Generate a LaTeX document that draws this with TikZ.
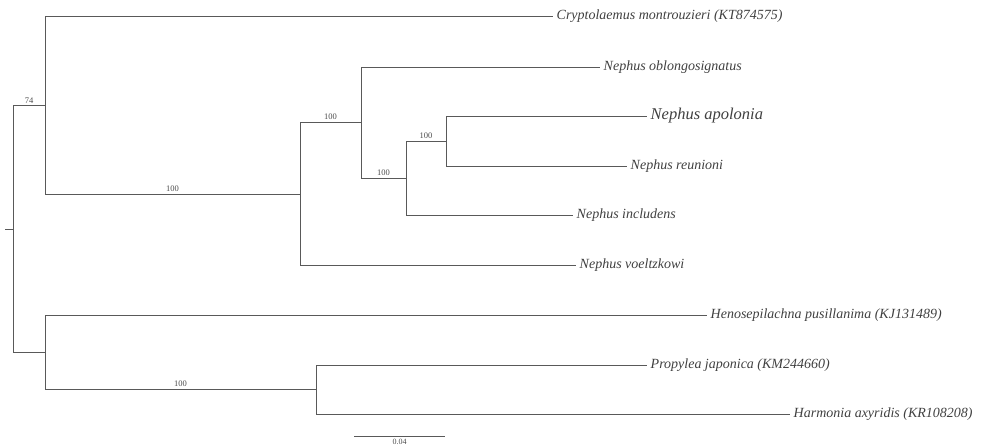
\documentclass[tikz,border=0pt]{standalone}
\usepackage{fontspec}
\setmainfont{Liberation Serif}
\usetikzlibrary{positioning}

\tikzset{
  branch/.style={draw=black!65, line width=0.9pt},
  taxon/.style={anchor=west, inner sep=3.5pt, font=\fontsize{14}{16}\selectfont\itshape, text=black!75},
  support/.style={above, inner sep=1.5pt, font=\fontsize{8.5}{9}\selectfont, text=black!70},
}

\begin{document}
\begin{tikzpicture}[x=1pt, y=-1pt]
    \useasboundingbox (0,0) rectangle (983,446);

    % internal nodes
    \coordinate (root) at (13,229);
    \coordinate (stub) at (5,229);
    \coordinate (n74) at (45,105);
    \coordinate (nbot) at (45,352);
    \coordinate (nneph) at (300,194);
    \coordinate (na) at (361,122);
    \coordinate (nb) at (406,178);
    \coordinate (nc) at (446,141);
    \coordinate (nprop) at (316,389);

    % tips
    \node[taxon] (crypto) at (553,16) {Cryptolaemus montrouzieri (KT874575)};
    \node[taxon] (oblong) at (600,67) {Nephus oblongosignatus};
    \node[taxon, font=\fontsize{16.5}{18}\selectfont\itshape] (apol) at (647,116) {Nephus apolonia};
    \node[taxon] (reun) at (627,166) {Nephus reunioni};
    \node[taxon] (incl) at (573,215) {Nephus includens};
    \node[taxon] (voelt) at (576,265) {Nephus voeltzkowi};
    \node[taxon] (henos) at (707,315) {Henosepilachna pusillanima (KJ131489)};
    \node[taxon] (propy) at (647,365) {Propylea japonica (KM244660)};
    \node[taxon] (harmo) at (790,414) {Harmonia axyridis (KR108208)};

    \draw[branch] (stub) -- (root);
    \draw[branch] (root) |- (n74) node[support, pos=0.75] {74};
    \draw[branch] (root) |- (nbot);
    \draw[branch] (n74) |- (crypto);
    \draw[branch] (n74) |- (nneph) node[support, pos=0.75] {100};
    \draw[branch] (nneph) |- (na) node[support, pos=0.75] {100};
    \draw[branch] (nneph) |- (voelt);
    \draw[branch] (na) |- (oblong);
    \draw[branch] (na) |- (nb) node[support, pos=0.75] {100};
    \draw[branch] (nb) |- (nc) node[support, pos=0.75] {100};
    \draw[branch] (nb) |- (incl);
    \draw[branch] (nc) |- (apol);
    \draw[branch] (nc) |- (reun);
    \draw[branch] (nbot) |- (henos);
    \draw[branch] (nbot) |- (nprop) node[support, pos=0.75] {100};
    \draw[branch] (nprop) |- (propy);
    \draw[branch] (nprop) |- (harmo);

    % scale bar
    \coordinate (sbl) at (354,436);
    \coordinate (sbr) at (445,436);
    \draw[branch] (sbl) -- (sbr);
    \node[anchor=base, inner sep=0pt, font=\fontsize{8}{9}\selectfont, text=black!70] (sblabel) at (399.5,444.5) {0.04};
\end{tikzpicture}
\end{document}
